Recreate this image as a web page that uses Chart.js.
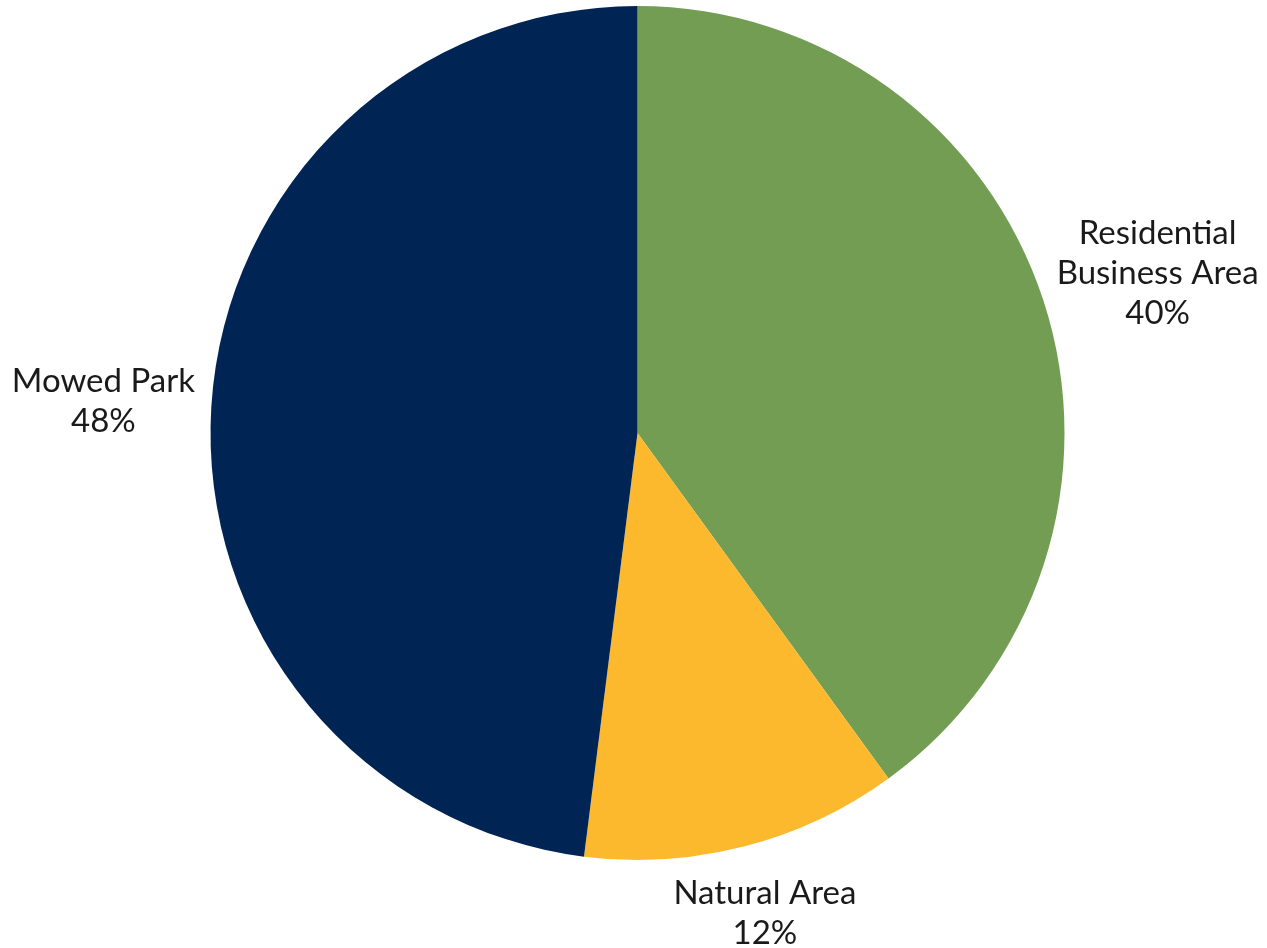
<!DOCTYPE html>
<html>
<head>
<meta charset="utf-8">
<script src="https://cdn.jsdelivr.net/npm/chart.js@4/dist/chart.umd.min.js"></script>
<style>
  html, body { margin: 0; padding: 0; background: #fff; }
  #wrap { width: 1267px; height: 948px; position: relative; }
</style>
</head>
<body>
<div id="wrap"><canvas id="pieChart"></canvas></div>
<script>
// Land use shares (percent)
const categories = [['Residential', 'Business Area'], ['Natural Area'], ['Mowed Park']];
const shares = [40, 12, 48];
const sliceColors = ['#739d52', '#fdb92d', '#002555'];

const labelFont = '33px Lato';
const lineHeight = 40;

// Draw the outside labels (name + percent) next to each slice
const outsideLabels = {
    id: 'outsideLabels',
    afterDatasetsDraw(chart) {
        const ctx = chart.ctx;
        const meta = chart.getDatasetMeta(0);
        const total = shares.reduce((a, b) => a + b, 0);
        ctx.save();
        ctx.font = labelFont;
        ctx.fillStyle = '#1a1a1a';
        ctx.textAlign = 'center';
        ctx.textBaseline = 'middle';
        meta.data.forEach((arc, i) => {
            const p = arc.getProps(['x', 'y', 'startAngle', 'endAngle', 'outerRadius'], true);
            const mid = (p.startAngle + p.endAngle) / 2;
            const lines = categories[i].concat([Math.round(shares[i] / total * 100) + '%']);
            const w = Math.max(...lines.map(l => ctx.measureText(l).width));
            const h = lines.length * lineHeight;
            const dx = Math.cos(mid), dy = Math.sin(mid);
            const d = p.outerRadius + 17;
            const cx = p.x + dx * d + dx * w / 2 - 6 * dy;
            const cy = p.y + dy * d + dy * (h / 2 + 12);
            lines.forEach((l, k) => {
                ctx.fillText(l, cx, cy - h / 2 + lineHeight * (k + 0.5));
            });
        });
        ctx.restore();
    }
};

const pieCtx = document.getElementById('pieChart').getContext('2d');
new Chart(pieCtx, {
    type: 'pie',
    data: {
        labels: categories.map(c => c.join(' ')),
        datasets: [{
            data: shares,
            backgroundColor: sliceColors,
            borderWidth: 0
        }]
    },
    options: {
        responsive: true,
        maintainAspectRatio: false,
        animation: false,
        layout: {
            padding: { left: 210, right: 202, top: 6, bottom: 88 }
        },
        plugins: {
            legend: { display: false },
            tooltip: { enabled: false }
        }
    },
    plugins: [outsideLabels]
});
</script>
</body>
</html>
